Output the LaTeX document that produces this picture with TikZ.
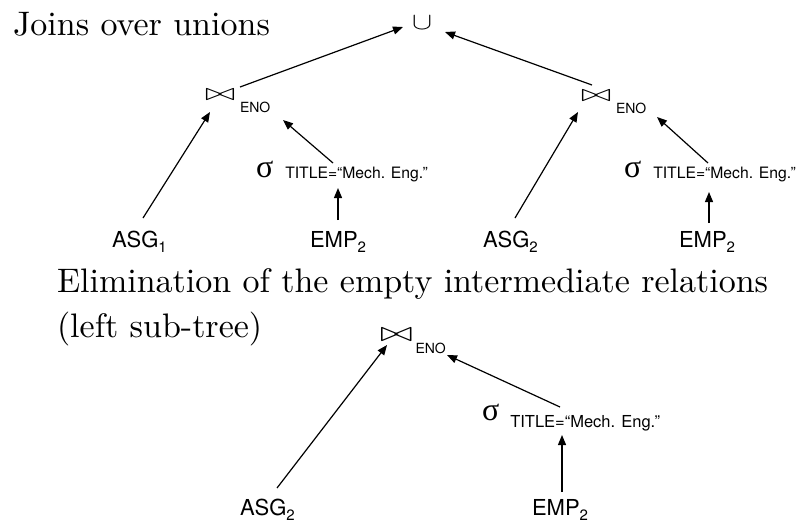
\documentclass[tikz,border=0pt]{standalone}
\usepackage{fontspec}
\setsansfont{TeX Gyre Heros}
\newfontfamily\symfont{Liberation Serif}
\usetikzlibrary{arrows.meta}
\newcommand{\hd}[1]{\scalebox{3.4}{\fontsize{10}{12}\selectfont #1}}
\newcommand{\relname}[2]{{\sffamily\fontsize{22}{22}\selectfont #1\raisebox{-5pt}{\fontsize{15}{15}\selectfont #2}}}
\newcommand{\joinop}[4]{\scalebox{#1}[#2]{$\bowtie$}\hspace{#3}\raisebox{#4}{\sffamily\fontsize{14}{14}\selectfont ENO}}
\newcommand{\selop}[3]{{\symfont\fontsize{32}{32}\selectfont σ}\hspace{#3}\raisebox{#1}{\sffamily\fontsize{#2}{#2}\selectfont TITLE=“Mech. Eng.”}}
\tikzset{
  lbl/.style={inner sep=0pt, outer sep=0pt, anchor=base west},
  arr/.style={-{Triangle[length=10pt,width=8pt]}, line width=1.2pt},
}
\begin{document}
\begin{tikzpicture}[x=1pt,y=-1pt]
\useasboundingbox (0,0) rectangle (797,523);
% headings
\node[lbl] (h1) at (13,35) {\hd{Joins over unions}};
\node[lbl] (h2) at (57,292) {\hd{Elimination of the empty intermediate relations}};
\node[lbl] (h3) at (57,337) {\hd{(left sub-tree)}};
% top tree
\node[inner sep=0pt] (u) at (422,23) {\scalebox{3}[2.4]{$\cup$}};
\node[lbl] (j1) at (205,100) {\joinop{3.6}{2.4}{5pt}{-12pt}};
\node[lbl] (j2) at (581,101) {\joinop{3.6}{2.4}{5pt}{-12pt}};
\node[lbl] (s1) at (256,177) {\selop{-1pt}{15.7}{12pt}};
\node[lbl] (s2) at (624,177) {\selop{-1pt}{15.7}{12pt}};
\node[lbl] (a1) at (112,247) {\relname{ASG}{1}};
\node[lbl] (e1) at (310,247) {\relname{EMP}{2}};
\node[lbl] (a2) at (483,247) {\relname{ASG}{2}};
\node[lbl] (e2) at (679,247) {\relname{EMP}{2}};
\draw[arr] ([shift={(35,-13)}]j1.base west) -- ([shift={(-19,4)}]u.center);
\draw[arr] ([shift={(11,-16)}]j2.base west) -- ([shift={(23,9)}]u.center);
\draw[arr] ([shift={(31,-29)}]a1.base west) -- ([shift={(5,12)}]j1.base west);
\draw[arr] ([shift={(77,-14)}]s1.base west) -- ([shift={(78,20)}]j1.base west);
\draw[arr] ([shift={(28,-27)}]e1.base west) -- ([shift={(82,11)}]s1.base west);
\draw[arr] ([shift={(32,-29)}]a2.base west) -- ([shift={(-3,11)}]j2.base west);
\draw[arr] ([shift={(84,-14)}]s2.base west) -- ([shift={(76,16)}]j2.base west);
\draw[arr] ([shift={(30,-24)}]e2.base west) -- ([shift={(85,15)}]s2.base west);
% bottom tree
\node[lbl] (j3) at (380,341) {\joinop{3.9}{2.8}{3pt}{-12pt}};
\node[lbl] (s3) at (482,420) {\selop{-7pt}{16.5}{11pt}};
\node[lbl] (a3) at (240,515) {\relname{ASG}{2}};
\node[lbl] (e3) at (532,515) {\relname{EMP}{2}};
\draw[arr] ([shift={(37,-27)}]a3.base west) -- ([shift={(7,4)}]j3.base west);
\draw[arr] ([shift={(78,-13)}]s3.base west) -- ([shift={(67,14)}]j3.base west);
\draw[arr] ([shift={(30,-23)}]e3.base west) -- ([shift={(80,15)}]s3.base west);
\end{tikzpicture}
\end{document}
